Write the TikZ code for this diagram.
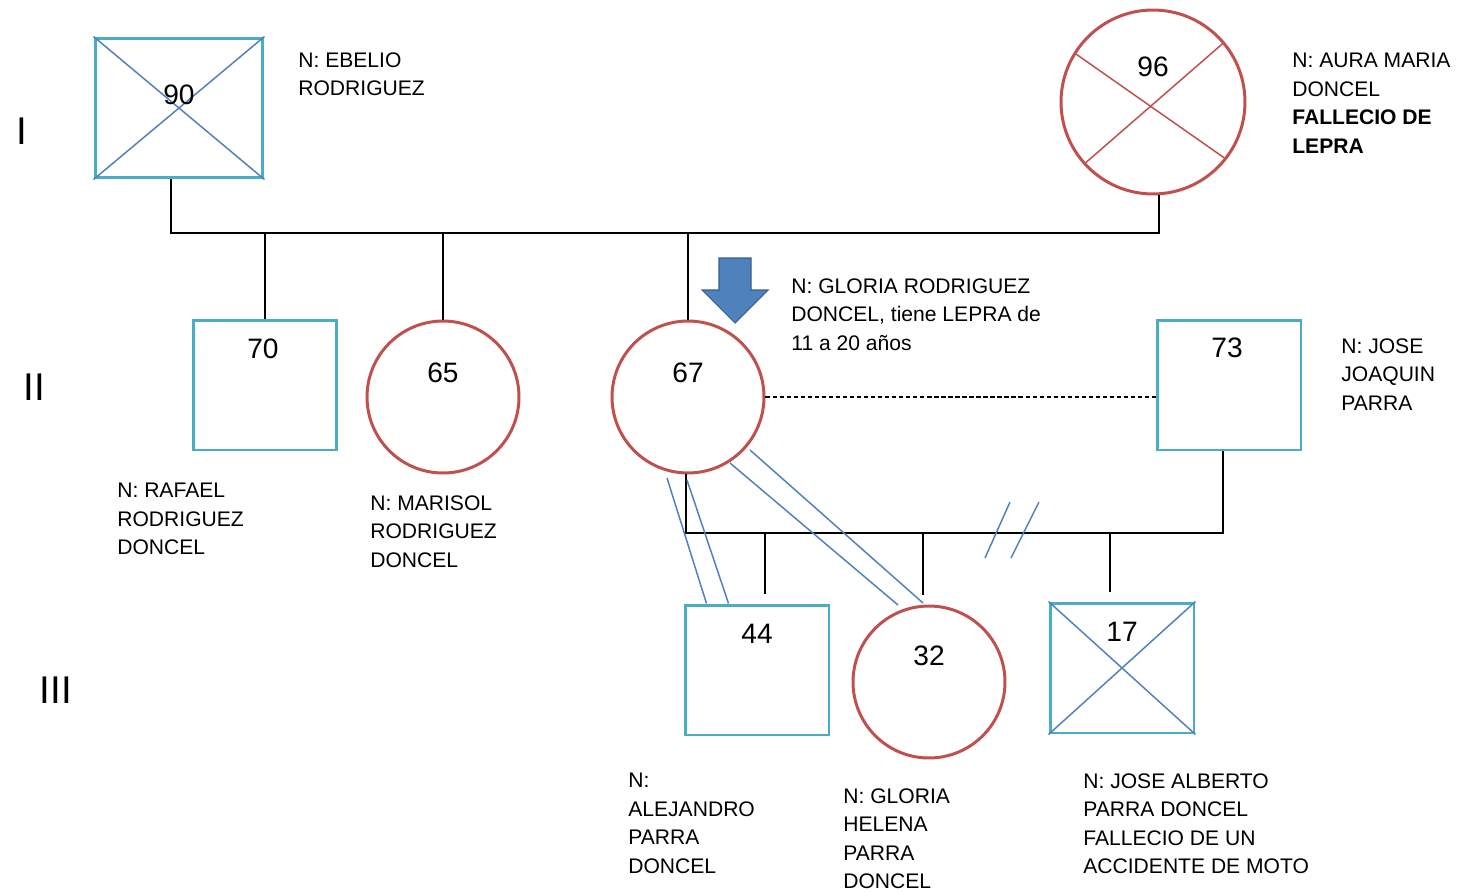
\documentclass[tikz,border=0pt]{standalone}
\usepackage{fontspec}
\setmainfont{Liberation Sans}
\usetikzlibrary{calc}
\definecolor{malecol}{RGB}{75,172,198}
\definecolor{femcol}{RGB}{192,80,77}
\definecolor{twincol}{RGB}{79,129,189}
\definecolor{arrowline}{RGB}{56,93,138}
\begin{document}
\begin{tikzpicture}[x=0.02cm, y=-0.02cm]
\tikzstyle{male}=[draw=malecol, line width=1.7pt, rectangle, minimum width=2.88cm, minimum height=2.6cm, inner sep=0pt]
\tikzstyle{female}=[draw=femcol, line width=1.7pt, circle, minimum size=3.04cm, inner sep=0pt]
\tikzstyle{age}=[font=\fontsize{16}{19}\selectfont, inner sep=0pt]
\tikzstyle{info}=[anchor=north west, align=left, inner sep=0pt, font=\fontsize{12}{16.2}\selectfont]
\tikzstyle{gen}=[font=\fontsize{22}{26}\selectfont, inner sep=0pt]
\tikzstyle{kin}=[line width=1.1pt]
\tikzstyle{twin}=[draw=twincol, line width=0.85pt]
\tikzstyle{drop}=[kin, shorten >=0.2cm]

\useasboundingbox (0,0) rectangle (1464,893);

\node(p90)[male, minimum width=3.36cm, minimum height=2.8cm] at (179,108) {};
\node(p96)[female, minimum size=3.68cm] at (1153,102) {};
\node(p70)[male]   at (265,385) {};
\node(p65)[female] at (443,397) {};
\node(p67)[female] at (688,397) {};
\node(p73)[male]   at (1229,385) {};
\node(p44)[male]   at (757,670) {};
\node(p32)[female] at (929,682) {};
\node(p17)[male]   at (1122,668) {};

\draw[twin] (p90.north west) -- (p90.south east) (p90.south west) -- (p90.north east);
\draw[twin] (p17.north west) -- (p17.south east) (p17.south west) -- (p17.north east);
\draw[draw=femcol, line width=0.85pt, shorten <=0.06cm, shorten >=0.06cm] (p96.148) -- (p96.-38);
\draw[draw=femcol, line width=0.85pt, shorten <=0.06cm, shorten >=0.06cm] (p96.40) -- (p96.222);

\node(a90)[age] at (179,95)  {90};
\node(a96)[age] at (1153,67) {96};
\node(a70)[age] at (263,349) {70};
\node(a65)[age] at (443,373) {65};
\node(a67)[age] at (688,373) {67};
\node(a73)[age] at (1227,348) {73};
\node(a44)[age] at (757,634) {44};
\node(a32)[age] at (929,656) {32};
\node(a17)[age] at (1122,632) {17};

\node(g1)[gen] at (22,131) {I};
\node(g2)[gen] at (34,387) {II};
\node(g3)[gen] at (56,690) {III};

\coordinate(c1) at (171,233);
\coordinate(c2) at (1159,233);
\draw[kin] (p90.south -| c1) -- (c1) -- (c2) -- (p96.south -| c2);
\draw[kin] (p70.north) -- (p70.north |- c1);
\draw[kin] (p65.north) -- (p65.north |- c1);
\draw[kin] (p67.north) -- (p67.north |- c1);

\draw[line width=0.8pt, dash pattern=on 2.5pt off 1.5pt] (p67.east) -- (p67.east -| p73.west);

\coordinate(s1) at (686,533);
\coordinate(s2) at (1223,533);
\draw[kin] (p67.south -| s1) -- (s1) -- (s2) -- (s2 |- p73.south);
\draw[drop] ([xshift=0.16cm]p44.north |- s1) -- ([xshift=0.16cm]p44.north);
\draw[drop] ([xshift=-0.12cm]p32.north |- s1) -- ([xshift=-0.12cm]p32.north);
\draw[drop] ([xshift=-0.24cm]p17.north |- s1) -- ([xshift=-0.24cm]p17.north);

\draw[twin] ($(p67)+(-21,81)$) -- ($(p44.north west)+(23,0)$);
\draw[twin] ($(p67)+(-1,83)$) -- ($(p44.north west)+(45,0)$);
\draw[twin] ($(p67)+(42,66)$) -- ($(p32)+(-31,-77)$);
\draw[twin] ($(p67)+(62,53)$) -- ($(p32)+(-6,-79)$);

\coordinate(brk) at (1012,530);
\draw[twin] ($(brk)+(-27,28)$) -- ($(brk)+(-2,-28)$);
\draw[twin] ($(brk)+(-1,28)$) -- ($(brk)+(27,-28)$);

\draw[fill=twincol, draw=arrowline, line width=0.6pt] (719,258) -- (751,258) -- (751,290) -- (768,290) -- (735,323) -- (702,290) -- (719,290) -- cycle;

\node(i90)[info] at (298,52)   {N: EBELIO\\RODRIGUEZ};
\node(i96)[info] at (1292,53)  {N: AURA MARIA\\DONCEL\\\textbf{FALLECIO DE}\\\textbf{LEPRA}};
\node(i67)[info] at (791,278)  {N: GLORIA RODRIGUEZ\\DONCEL, tiene LEPRA de\\11 a 20 años};
\node(i70)[info] at (117,483)  {N: RAFAEL\\RODRIGUEZ\\DONCEL};
\node(i65)[info] at (370,495)  {N: MARISOL\\RODRIGUEZ\\DONCEL};
\node(i73)[info] at (1341,338) {N: JOSE\\JOAQUIN\\PARRA};
\node(i44)[info] at (628,773)  {N:\\ALEJANDRO\\PARRA\\DONCEL};
\node(i32)[info] at (843,788)  {N: GLORIA\\HELENA\\PARRA\\DONCEL};
\node(i17)[info] at (1083,773) {N: JOSE ALBERTO\\PARRA DONCEL\\FALLECIO DE UN\\ACCIDENTE DE MOTO};

\end{tikzpicture}
\end{document}
